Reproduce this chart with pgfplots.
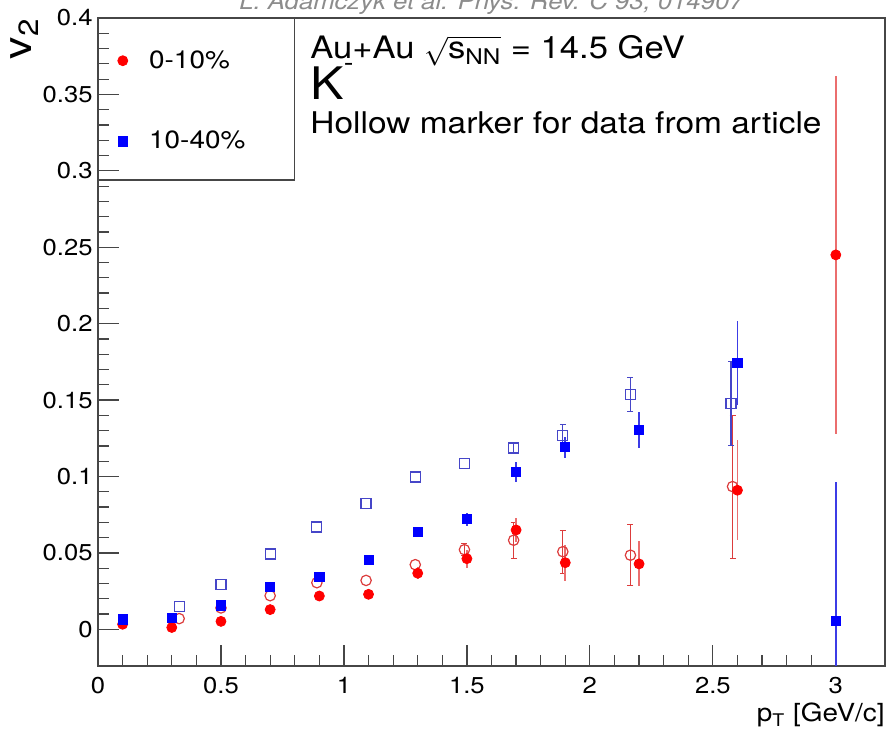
\documentclass[border=0pt]{standalone}
\usepackage{amsmath}
\usepackage{pgfplots}
\usepackage{pgfplotstable}
\pgfplotsset{compat=1.18}
\usepackage{fontspec}
\setmainfont{TeX Gyre Heros}[FakeStretch=1.12]

\definecolor{hred}{RGB}{220,60,60}
\definecolor{hblue}{RGB}{70,70,200}
\definecolor{ered}{RGB}{235,110,110}
\definecolor{eblue}{RGB}{60,60,230}
\definecolor{frame}{RGB}{70,70,70}

% filled: this analysis, hollow: published data
\pgfplotstableread{
x    y      e
0.1  0.0033 0.0012
0.3  0.0012 0.0012
0.5  0.0052 0.0012
0.7  0.0129 0.0015
0.9  0.0218 0.0015
1.1  0.0229 0.0020
1.3  0.0367 0.0040
1.5  0.0462 0.0060
1.7  0.0650 0.0077
1.9  0.0436 0.0117
2.2  0.0428 0.0147
2.6  0.0910 0.0327
3.0  0.2450 0.1170
}\redfull
\pgfplotstableread{
x    y      e
0.1  0.0065 0.0010
0.3  0.0076 0.0010
0.5  0.0157 0.0010
0.7  0.0275 0.0015
0.9  0.0342 0.0015
1.1  0.0452 0.0020
1.3  0.0637 0.0030
1.5  0.0720 0.0044
1.7  0.1030 0.0065
1.9  0.1192 0.0068
2.2  0.1303 0.0117
2.6  0.1745 0.0275
3.0  0.0054 0.0910
}\bluefull
\pgfplotstableread{
x     y      e
0.33  0.0070 0.0010
0.50  0.0140 0.0010
0.70  0.0220 0.0010
0.89  0.0305 0.0015
1.09  0.0320 0.0020
1.29  0.0423 0.0030
1.49  0.0521 0.0040
1.69  0.0583 0.0117
1.89  0.0508 0.0139
2.165 0.0485 0.0200
2.58  0.0934 0.0468
}\redhollow
\pgfplotstableread{
x     y      e
0.33  0.0148 0.0010
0.50  0.0295 0.0010
0.70  0.0493 0.0010
0.89  0.0670 0.0015
1.09  0.0823 0.0020
1.29  0.0997 0.0020
1.49  0.1087 0.0020
1.69  0.1187 0.0030
1.89  0.1266 0.0077
2.165 0.1536 0.0110
2.574 0.1478 0.0276
}\bluehollow

\begin{document}
\begin{tikzpicture}
\begin{axis}[
  scale only axis,
  width=393.5bp, height=324bp,
  xmin=0, xmax=3.2,
  ymin=-0.024, ymax=0.4,
  xtick={0,0.5,1,1.5,2,2.5,3},
  ytick={0,0.05,0.1,0.15,0.2,0.25,0.3,0.35,0.4},
  minor x tick num=4, minor y tick num=4,
  tick pos=left, tick align=inside,
  major tick length=10.5bp, minor tick length=5.3bp,
  axis line style={frame, line width=0.6bp},
  every tick/.style={frame, line width=0.6bp},
  /pgf/number format/assume math mode=true,
  ticklabel style={font=\fontsize{11.5}{13}\selectfont, inner sep=0pt},
  yticklabel style={/pgf/number format/fixed, /pgf/number format/precision=2, xshift=-2.5bp},
  xticklabel style={yshift=-5.3bp},
  xlabel={p\textsubscript{T} [GeV/c]},
  ylabel={v\textsubscript{2}},
  xlabel style={at={(rel axis cs:1,-0.0864)}, anchor=base east, inner sep=0pt,
    font=\fontsize{12.5}{15}\selectfont},
  ylabel style={at={(rel axis cs:-0.0839,1)}, anchor=base east, inner sep=0pt,
    font=\fontsize{20}{24}\selectfont},
  legend style={draw=none, fill=none, at={(rel axis cs:0,1)}, anchor=north west,
    xshift=4bp, yshift=-16bp, inner sep=0pt, row sep=30bp, column sep=5bp,
    font=\fontsize{12.5}{15}\selectfont, nodes={inner sep=0pt}},
  legend cell align=left,
  legend image code/.code={\draw[#1] plot coordinates {(8bp,0bp)}; \path (0bp,0bp) (16bp,0bp);},
  hollowred/.style={only marks, mark=o, mark size=2.6bp, color=hred,
    mark options={draw=hred, fill=white, line width=0.6bp}},
  hollowblue/.style={only marks, mark=square, mark size=2.5bp, color=hblue,
    mark options={draw=hblue, fill=white, line width=0.6bp}},
]
% hollow markers (data from article); bars only where they reach past the marker
\addplot[forget plot, hollowred] table[x=x, y=y] {\redhollow};
\addplot[forget plot, hollowblue] table[x=x, y=y] {\bluehollow};
\addplot[forget plot, draw=none, mark=none, skip coords between index={0}{6},
  error bars/.cd, y dir=both, y explicit,
  error bar style={draw=hred, line width=0.6bp},
  error mark options={rotate=90, mark size=1.5bp, draw=hred}]
  table[x=x, y=y, y error=e] {\redhollow};
\addplot[forget plot, draw=none, mark=none, skip coords between index={0}{7},
  error bars/.cd, y dir=both, y explicit,
  error bar style={draw=hblue, line width=0.6bp},
  error mark options={rotate=90, mark size=1.5bp, draw=hblue}]
  table[x=x, y=y, y error=e] {\bluehollow};
\addplot[only marks, mark=*, mark size=2.5bp, color=red, mark options={draw=red, fill=red},
  error bars/.cd, y dir=both, y explicit, error mark=none,
  error bar style={ered, line width=0.9bp}]
  table[x=x, y=y, y error=e] {\redfull};
\addlegendentry{0-10\%}
\addplot[only marks, mark=square*, mark size=2.3bp, color=blue, mark options={draw=blue, fill=blue},
  error bars/.cd, y dir=both, y explicit, error mark=none,
  error bar style={eblue, line width=0.8bp}]
  table[x=x, y=y, y error=e] {\bluefull};
\addlegendentry{10-40\%}
% legend frame and annotations
\draw[frame, line width=0.6bp] (rel axis cs:0,1) rectangle (rel axis cs:0.2494,0.75);
\node[anchor=base west, inner sep=0pt, font=\fontsize{15.5}{18}\selectfont]
  at (rel axis cs:0.2694,0.9378) {Au+Au $\sqrt{\text{s}_{\text{NN}}}$ = 14.5 GeV};
\node[anchor=base west, inner sep=0pt, font=\fontsize{22.5}{27}\selectfont]
  at (rel axis cs:0.2694,0.8735) {K\raisebox{14.4bp}{\fontsize{13}{15}\selectfont -}};
\node[anchor=base west, inner sep=0pt, font=\fontsize{15}{18}\selectfont]
  at (rel axis cs:0.2694,0.821) {Hollow marker for data from article};
\coordinate (bl) at (rel axis cs:0,0);
\coordinate (tr) at (rel axis cs:1,1);
\coordinate (tc) at (rel axis cs:0.5,1);
\end{axis}
\node[anchor=base, inner sep=0pt, text=black!45, font=\itshape\fontsize{11.5}{14}\selectfont]
  at ([yshift=4bp]tc) {L. Adamczyk et al. Phys. Rev. C 93, 014907};
\pgfresetboundingbox
\path ([shift={(-49bp,-36.5bp)}]bl) rectangle ([shift={(1bp,9bp)}]tr);
\end{tikzpicture}
\end{document}
